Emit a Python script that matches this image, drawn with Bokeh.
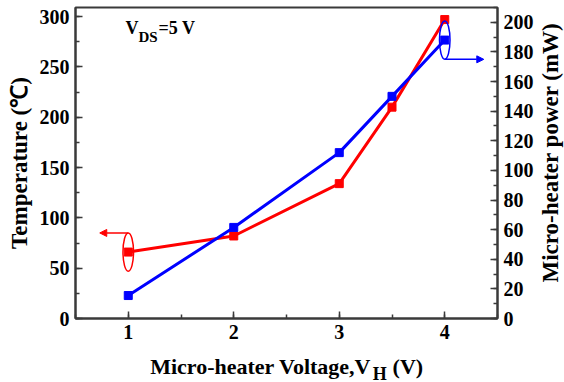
import math
from bokeh.plotting import figure
from bokeh.layouts import column, row
from bokeh.models import LinearAxis, Range1d, Label, Arrow, NormalHead, SingleIntervalTicker
from bokeh.core.properties import value
from bokeh.embed import file_html
from bokeh.resources import INLINE

# ---- data ----
voltage = [1, 2, 3, 3.5, 4]
temperature = [66, 82, 134, 210, 297]      # left axis, deg C
power = [15.5, 61.5, 112, 150, 188]        # right axis, mW

FONT = "Liberation Serif"
AX = "#3a3a3a"
RED = "#ff0000"
BLUE = "#0000ff"

p = figure(width=536, height=350, x_range=Range1d(0.5, 4.5), y_range=Range1d(0, 309),
           output_backend="svg", toolbar_location=None,
           min_border_left=75, min_border_right=37, min_border_top=7, min_border_bottom=32)
p.extra_y_ranges = {"power": Range1d(0, 210)}
p.grid.visible = False
p.outline_line_color = AX
p.outline_line_width = 2
p.background_fill_color = "white"
p.border_fill_color = "white"


def style(ax, interval):
    ax.ticker = SingleIntervalTicker(interval=interval, num_minor_ticks=2)
    ax.axis_line_color = AX
    ax.axis_line_width = 2
    ax.major_tick_line_color = AX
    ax.major_tick_line_width = 1.5
    ax.minor_tick_line_color = AX
    ax.minor_tick_line_width = 1.5
    ax.major_tick_in = 7
    ax.major_tick_out = 0
    ax.minor_tick_in = 4
    ax.minor_tick_out = 0
    ax.major_label_text_font = FONT
    ax.major_label_text_font_size = "20px"
    ax.major_label_text_font_style = "bold"
    ax.major_label_text_color = "black"
    ax.major_label_standoff = 6
    ax.axis_label_text_font = FONT
    ax.axis_label_text_font_size = "23px"
    ax.axis_label_text_font_style = "bold"
    ax.axis_label_text_color = "black"


style(p.xaxis[0], 1)
style(p.yaxis[0], 50)
p.yaxis.axis_label = "Temperature (\u2103)"
p.yaxis.axis_label_standoff = 5

rax = LinearAxis(y_range_name="power")
style(rax, 20)
p.add_layout(rax, "right")

# ---- series ----
p.line(voltage, temperature, line_color=RED, line_width=3)
p.scatter(voltage, temperature, marker="square", size=8, fill_color=RED, line_color=RED)
p.line(voltage, power, line_color=BLUE, line_width=3, y_range_name="power")
p.scatter(voltage, power, marker="square", size=8, fill_color=BLUE, line_color=BLUE,
          y_range_name="power")

# ---- axis-indicator ellipses and arrows ----
red_h = 38
p.ellipse(x=[voltage[0]], y=[temperature[0]], width=0.1, height=red_h,
          fill_color=None, line_color=RED, line_width=1.5)
ry = temperature[0] + red_h / 2
p.add_layout(Arrow(end=NormalHead(size=7, fill_color=RED, line_color=RED),
                   x_start=voltage[0], y_start=ry, x_end=voltage[0] - 0.27, y_end=ry,
                   line_color=RED, line_width=1.5))

blue_h = 26
p.ellipse(x=[voltage[-1]], y=[power[-1]], width=0.1, height=blue_h,
          fill_color=None, line_color=BLUE, line_width=1.5, y_range_name="power")
by = power[-1] - blue_h / 2
p.add_layout(Arrow(end=NormalHead(size=7, fill_color=BLUE, line_color=BLUE),
                   x_start=voltage[-1], y_start=by, x_end=voltage[-1] + 0.37, y_end=by,
                   line_color=BLUE, line_width=1.5, y_range_name="power"))


def lab(text, xo, yo, size):
    p.add_layout(Label(x=0.5, y=309, x_offset=xo, y_offset=yo, text=text, text_font=FONT,
                       text_font_size=size, text_font_style="bold", text_color="black"))


# V_DS = 5 V annotation
lab("V", 50, -30, "18px")
lab("DS", 63, -37, "15px")
lab("=5 V", 83, -30, "18px")

# ---- x-axis label with subscript, in a strip below the plot ----
# (the strip's frame is aligned with the main frame, so x is in page pixels 75..499)
pb = figure(width=536, height=32, x_range=Range1d(75, 499), y_range=Range1d(0, 32),
            output_backend="svg", toolbar_location=None, x_axis_type=None, y_axis_type=None,
            min_border_left=75, min_border_right=37, min_border_top=0, min_border_bottom=0)
pb.grid.visible = False
pb.outline_line_color = None
pb.border_fill_color = "white"
pb.background_fill_color = "white"

xl_parts = ["Micro-heater Voltage,V", "H", "(V)"]
xl_x = [150, 150 + 223.6, 150 + 223.6 + 14 + 6]
xl_y = [16, 9, 16]
xl_sizes = ["22px", "18px", "22px"]
for t, xx, yy, sz in zip(xl_parts, xl_x, xl_y, xl_sizes):
    pb.text(x=[xx], y=[yy], text=[t], text_font=value(FONT), text_font_size=value(sz),
            text_font_style="bold", text_color="black", text_align="left",
            text_baseline="alphabetic")

# ---- right-axis label, in a strip to the right (y in page pixels, measured from bottom) ----
pr = figure(width=28, height=382, x_range=Range1d(0, 28), y_range=Range1d(0, 382),
            output_backend="svg", toolbar_location=None, x_axis_type=None, y_axis_type=None,
            min_border=0)
pr.grid.visible = False
pr.outline_line_color = None
pr.border_fill_color = "white"
pr.background_fill_color = "white"
pr.text(x=[14], y=[382 - 152], text=["Micro-heater power (mW)"], angle=math.pi / 2,
        text_font=value(FONT), text_font_size=value("23px"), text_font_style="bold",
        text_color="black", text_align="center", text_baseline="middle")

layout = row(column(p, pb, spacing=0), pr, spacing=0)
open("out.html", "w").write(file_html(layout, INLINE))
